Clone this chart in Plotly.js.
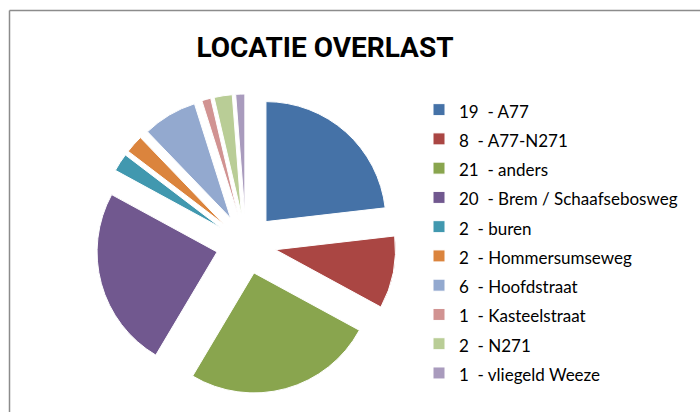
<!DOCTYPE html>
<html>
<head>
<meta charset="utf-8">
<script src="https://cdn.plot.ly/plotly-3.0.1.min.js"></script>
<style>html,body{margin:0;padding:0;background:#fff;}#chart{width:700px;height:412px;}</style>
</head>
<body>
<div id="chart"></div>
<script>
const names = ["A77", "A77-N271", "anders", "Brem / Schaafsebosweg", "buren", "Hommersumseweg", "Hoofdstraat", "Kasteelstraat", "N271", "vliegeld Weeze"];
const counts = [19, 8, 21, 20, 2, 2, 6, 1, 2, 1];
const colors = ["#4572A7", "#AA4643", "#89A54E", "#71588F", "#4198AF", "#DB843D", "#93A9CF", "#D19392", "#B9CD96", "#A99BBD"];
const chartTitle = "LOCATIE OVERLAST";

const W = 700, H = 412;
const labels = names.map((n, i) => '<span style="font-size:17px">' + counts[i] + '  - ' + n + '</span>');

const trace = {
  type: 'pie',
  labels: labels,
  values: counts,
  sort: false,
  direction: 'clockwise',
  rotation: 0,
  pull: 0.25,
  textinfo: 'none',
  hoverinfo: 'label+value',
  marker: {colors: colors, line: {color: '#ffffff', width: 1}},
  domain: {x: [96 / W, 396 / W], y: [(H - 394) / H, (H - 94) / H]}
};

const layout = {
  width: W, height: H,
  margin: {l: 0, r: 0, t: 0, b: 0},
  paper_bgcolor: '#ffffff',
  font: {family: 'Lato, "Open Sans", sans-serif', color: '#000000'},
  title: {
    text: chartTitle,
    font: {family: 'Roboto, "Liberation Sans", sans-serif', size: 28, color: '#000000', weight: 'bold'},
    x: 325 / W, xanchor: 'center', xref: 'paper',
    y: 1 - 57 / H, yanchor: 'bottom', yref: 'paper'
  },
  showlegend: true,
  legend: {
    x: 419 / W, xanchor: 'left',
    y: 1 - 90 / H, yanchor: 'top',
    font: {size: 20.2, family: 'Lato, "Open Sans", sans-serif', color: '#000000'},
    bgcolor: 'rgba(0,0,0,0)',
    traceorder: 'normal'
  },
  shapes: [
    {type: 'line', xref: 'paper', yref: 'paper', x0: 9.5 / W, x1: 1.05, y0: 1 - 10.5 / H, y1: 1 - 10.5 / H, line: {color: '#8c8c8c', width: 1.5}},
    {type: 'line', xref: 'paper', yref: 'paper', x0: 9.5 / W, x1: 9.5 / W, y0: 1 - 10.5 / H, y1: -0.05, line: {color: '#8c8c8c', width: 1.5}}
  ]
};

Plotly.newPlot('chart', [trace], layout, {displayModeBar: false, staticPlot: true});
</script>
</body>
</html>
